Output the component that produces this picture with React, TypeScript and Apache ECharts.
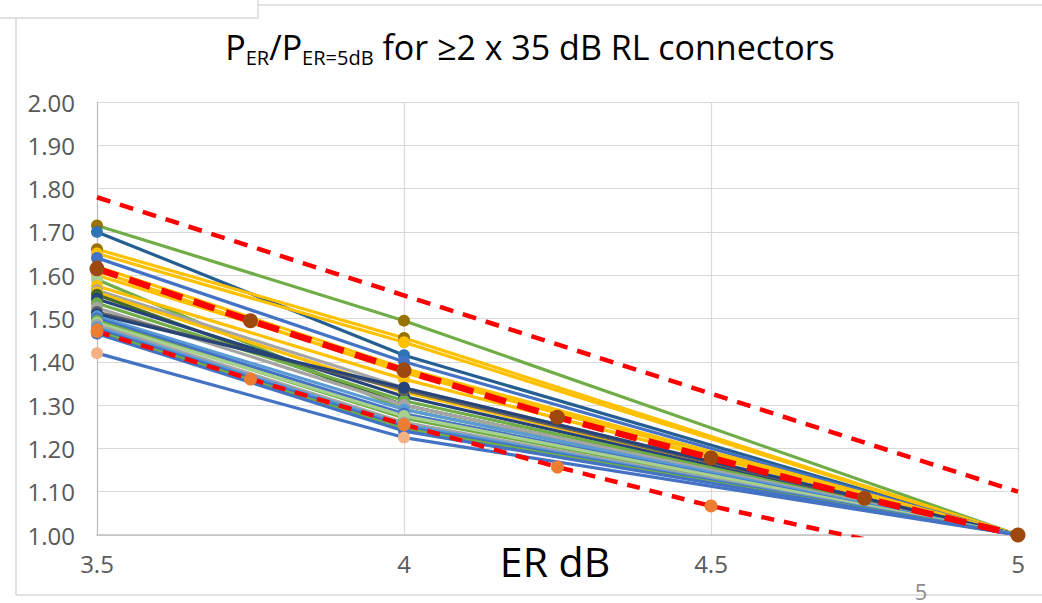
import React, { useEffect, useRef } from "react";
import * as echarts from "echarts";

// ---- data ----
const xTicks = [3.5, 4, 4.5, 5];
const yTicks = [1.0, 1.1, 1.2, 1.3, 1.4, 1.5, 1.6, 1.7, 1.8, 1.9, 2.0];
const measX = [3.5, 4, 5];
const valAt35 = [1.715, 1.7, 1.66, 1.65, 1.64, 1.62, 1.61, 1.6, 1.59, 1.575, 1.565, 1.56, 1.555, 1.545, 1.535, 1.525, 1.515, 1.51, 1.505, 1.5, 1.495, 1.49, 1.485, 1.48, 1.475, 1.47, 1.465, 1.42];
const valAt4 = [1.495, 1.415, 1.455, 1.445, 1.4, 1.385, 1.375, 1.38, 1.29, 1.36, 1.34, 1.33, 1.3, 1.32, 1.31, 1.3, 1.335, 1.34, 1.29, 1.28, 1.27, 1.275, 1.26, 1.255, 1.25, 1.245, 1.24, 1.225];
const valAt5 = [1, 1, 1, 1, 1, 1, 1, 1, 1, 1, 1, 1, 1, 1, 1, 1, 1, 1, 1, 1, 1, 1, 1, 1, 1, 1, 1, 1];
const lineColors = ["#70AD47", "#255E91", "#FFC000", "#FFC000", "#4472C4", "#FFC000", "#FFC000", "#FFC000", "#70AD47", "#FFC000", "#A5A5A5", "#FFC000", "#43682B", "#264478", "#70AD47", "#A5A5A5", "#636363", "#264478", "#5B9BD5", "#4472C4", "#70AD47", "#A9D18E", "#A5A5A5", "#5B9BD5", "#4472C4", "#70AD47", "#4472C4", "#4472C4"];
const markerColors = ["#997300", "#2E75B6", "#997300", "#FFC000", "#4472C4", "#9E480E", "#FFC000", "#FFC000", "#A9D18E", "#FFC000", "#A5A5A5", "#FFC000", "#43682B", "#264478", "#70AD47", "#A5A5A5", "#636363", "#264478", "#5B9BD5", "#4472C4", "#70AD47", "#A9D18E", "#A5A5A5", "#5B9BD5", "#ED7D31", "#70AD47", "#4472C4", "#F4B183"];

const fitX = [3.5, 3.75, 4, 4.25, 4.5, 4.75, 5];
const meanFit = [1.615, 1.495, 1.38, 1.272, 1.178, 1.085, 1.0];
const lowerFit = [1.47, 1.36, 1.255, 1.157, 1.067, 0.99, 0.92];
const upperX = [3.5, 5];
const upperFit = [1.78, 1.1];

export default function App() {
  const ref = useRef<HTMLDivElement>(null);
  useEffect(() => {
    if (!ref.current) return;
    const chart = echarts.init(ref.current, null, { renderer: "svg" });
    const measSeries = valAt35.map((v, i) => ({
      type: "line",
      name: "s" + (i + 1),
      data: measX.map((x, k) => [x, [v, valAt4[i], valAt5[i]][k]]),
      symbol: "circle",
      symbolSize: 12,
      lineStyle: { color: lineColors[i], width: 3.2 },
      itemStyle: { color: markerColors[i] },
      silent: true,
    }));
    const option: any = {
      animation: false,
      backgroundColor: "#ffffff",
      grid: { left: 97, right: 24, top: 102, bottom: 68 },
      xAxis: {
        type: "value",
        min: xTicks[0],
        max: xTicks[xTicks.length - 1],
        interval: 0.5,
        axisLine: { show: true, lineStyle: { color: "#BFBFBF", width: 1.5 } },
        axisTick: { show: false },
        axisLabel: {
          show: true,
          margin: 16,
          textStyle: { color: "#595959", fontFamily: "Open Sans", fontSize: 24 },
          color: "#595959",
          fontFamily: "Open Sans",
          fontSize: 24,
          formatter: (v: number) => String(v),
        },
        splitLine: { show: true, lineStyle: { color: "#D9D9D9", width: 1.2 } },
      },
      yAxis: {
        type: "value",
        min: yTicks[0],
        max: yTicks[yTicks.length - 1],
        interval: 0.1,
        axisLine: { show: true, lineStyle: { color: "#BFBFBF", width: 1.2 } },
        axisTick: { show: false },
        axisLabel: {
          show: true,
          margin: 22,
          textStyle: { color: "#595959", fontFamily: "Open Sans", fontSize: 24 },
          color: "#595959",
          fontFamily: "Open Sans",
          fontSize: 24,
          formatter: (v: number) => v.toFixed(2),
        },
        splitLine: { show: true, lineStyle: { color: "#D9D9D9", width: 1.2 } },
      },
      series: [
        ...measSeries,
        {
          type: "line",
          name: "upper",
          data: upperX.map((x, k) => [x, upperFit[k]]),
          symbol: "none",
          lineStyle: { color: "#FF0000", width: 4.5, type: [14, 10] },
          silent: true,
          clip: true,
        },
        {
          type: "line",
          name: "lower",
          data: fitX.map((x, k) => [x, lowerFit[k]]),
          symbol: "circle",
          symbolSize: 13,
          itemStyle: { color: "#ED7D31" },
          lineStyle: { color: "#FF0000", width: 4.5, type: [13, 10] },
          silent: true,
          clip: true,
        },
        {
          type: "line",
          name: "mean",
          data: fitX.map((x, k) => [x, meanFit[k]]),
          symbol: "circle",
          symbolSize: 15,
          itemStyle: { color: "#9E480E" },
          lineStyle: { color: "#FF0000", width: 6.5, type: [22, 12] },
          silent: true,
          clip: true,
        },
      ],
      graphic: [
        { type: "line", shape: { x1: 258, y1: 5, x2: 1042, y2: 5 }, style: { stroke: "#D9D9D9", lineWidth: 1.5 }, silent: true },
        { type: "rect", shape: { x: -2, y: -2, width: 260, height: 20 }, style: { fill: "#ffffff", stroke: "#D9D9D9", lineWidth: 1.5 }, silent: true },
        { type: "line", shape: { x1: 16, y1: 18, x2: 16, y2: 595 }, style: { stroke: "#D9D9D9", lineWidth: 1.5 }, silent: true },
        { type: "line", shape: { x1: 16, y1: 595, x2: 1042, y2: 595 }, style: { stroke: "#D9D9D9", lineWidth: 1.5 }, silent: true },
        {
          type: "text",
          x: 530,
          y: 47,
          silent: true,
          style: {
            text: "{p|P}{s|ER}{p|/P}{s|ER=5dB}{p| for ≥2 x 35 dB RL connectors}",
            align: "center",
            verticalAlign: "middle",
            rich: {
              p: { fontFamily: "Open Sans", fontSize: 34, color: "#595959", lineHeight: 40, verticalAlign: "middle" },
              s: { fontFamily: "Open Sans", fontSize: 20, color: "#595959", lineHeight: 16, verticalAlign: "bottom" },
            },
          },
        },
        {
          type: "text",
          x: 555,
          y: 561,
          silent: true,
          style: { text: "ER dB", fontFamily: "Open Sans", fontSize: 41, fill: "#000000", align: "center", verticalAlign: "middle" },
        },
        {
          type: "text",
          x: 921,
          y: 591,
          silent: true,
          style: { text: "5", fontFamily: "Open Sans", fontSize: 22, fill: "#8C8C8C", align: "center", verticalAlign: "middle" },
        },
      ],
    };
    chart.setOption(option);
    return () => chart.dispose();
  }, []);
  return <div ref={ref} style={{ position: "fixed", left: 0, top: 0, width: 1042, height: 603, background: "#fff" }} />;
}
